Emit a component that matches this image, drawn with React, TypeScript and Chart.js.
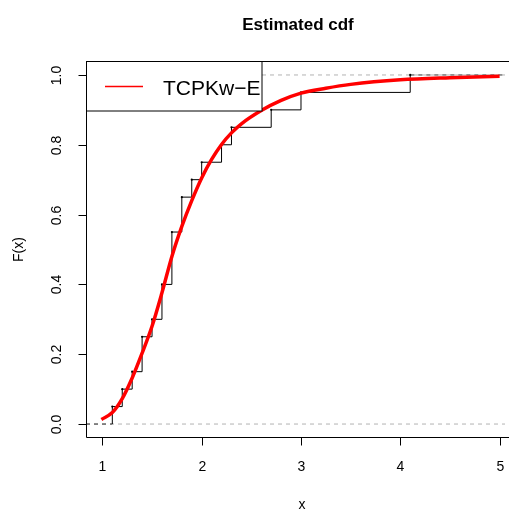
import React, { useEffect, useRef } from "react";
import { Chart, registerables } from "chart.js";
Chart.register(...registerables);

// Empirical CDF jump points and levels
const stepX = [1.1, 1.2, 1.3, 1.4, 1.5, 1.6, 1.7, 1.8, 1.9, 2.0, 2.2, 2.3, 2.7, 3.0, 4.1];
const stepY = [0.05, 0.1, 0.15, 0.25, 0.3, 0.4, 0.55, 0.65, 0.7, 0.75, 0.8, 0.85, 0.9, 0.95, 1.0];

// Fitted TCPKw-E cdf
const curveX = [0.99, 1.1, 1.2, 1.3, 1.4, 1.5, 1.6, 1.7, 1.8, 1.9, 2.0, 2.1, 2.2, 2.3, 2.4, 2.6, 2.8, 3.0, 3.25, 3.5, 4.0, 4.5, 5.0];
const curveY = [0.013, 0.033, 0.073, 0.132, 0.203, 0.28, 0.376, 0.48, 0.566, 0.64, 0.705, 0.758, 0.801, 0.834, 0.86, 0.898, 0.927, 0.948, 0.962, 0.973, 0.986, 0.992, 0.996];

const xTicks = [1, 2, 3, 4, 5];
const xTickLabels = ["1", "2", "3", "4", "5"];
const yTicks = [0, 0.2, 0.4, 0.6, 0.8, 1.0];
const yTickLabels = ["0.0", "0.2", "0.4", "0.6", "0.8", "1.0"];
const xLimits = [0.835, 5.0545];
const yLimits = [-0.04, 1.04];
const refLevels = [0, 1];

const titleText = "Estimated cdf";
const xLabel = "x";
const yLabel = "F(x)";
const legendLabel = "TCPKw\u2212E";

const FONT = "'Liberation Sans', Arial, Helvetica, sans-serif";

const decor = {
  id: "decor",
  afterDatasetsDraw(chart: any) {
    const { ctx, chartArea: ca, scales } = chart;
    const x = scales.x;
    const y = scales.y;
    ctx.save();
    ctx.strokeStyle = "#000";
    ctx.fillStyle = "#000";
    ctx.lineWidth = 1;
    ctx.setLineDash([]);
    const L = Math.round(ca.left) + 0.5;
    const T = Math.round(ca.top) + 0.5;
    const B = Math.round(ca.bottom) - 0.5;
    const R = ca.right + 20;
    // box
    ctx.beginPath();
    ctx.moveTo(R, T);
    ctx.lineTo(L, T);
    ctx.lineTo(L, B);
    ctx.lineTo(R, B);
    ctx.stroke();

    // x axis ticks & labels
    ctx.font = `14px ${FONT}`;
    ctx.textAlign = "center";
    ctx.textBaseline = "alphabetic";
    xTicks.forEach((v, i) => {
      const px = Math.round(x.getPixelForValue(v)) + 0.5;
      ctx.beginPath();
      ctx.moveTo(px, B);
      ctx.lineTo(px, B + 8);
      ctx.stroke();
      ctx.fillText(xTickLabels[i], px, 471);
    });

    // y axis ticks & labels
    yTicks.forEach((v, i) => {
      const py = Math.round(y.getPixelForValue(v)) + 0.5;
      ctx.beginPath();
      ctx.moveTo(L - 8, py);
      ctx.lineTo(L, py);
      ctx.stroke();
      ctx.save();
      ctx.translate(61, py);
      ctx.rotate(-Math.PI / 2);
      ctx.fillText(yTickLabels[i], 0, 0);
      ctx.restore();
    });

    // axis titles
    ctx.fillText(xLabel, 302, 509);
    ctx.save();
    ctx.translate(23, (ca.top + ca.bottom) / 2);
    ctx.rotate(-Math.PI / 2);
    ctx.fillText(yLabel, 0, 0);
    ctx.restore();

    // main title
    ctx.font = `bold 17px ${FONT}`;
    ctx.fillText(titleText, 298, 30);

    // legend
    ctx.fillStyle = "#fff";
    ctx.fillRect(L, T, 262 - L, 111 - T);
    ctx.strokeStyle = "#000";
    ctx.strokeRect(L, T, 262 - L, 111 - T);
    ctx.strokeStyle = "#ff0000";
    ctx.lineWidth = 1.5;
    ctx.beginPath();
    ctx.moveTo(105, 86.5);
    ctx.lineTo(143, 86.5);
    ctx.stroke();
    ctx.fillStyle = "#000";
    ctx.font = `21px ${FONT}`;
    ctx.textAlign = "left";
    ctx.fillText(legendLabel, 163, 95);

    ctx.restore();
  },
};

export default function App() {
  const ref = useRef<HTMLCanvasElement | null>(null);
  useEffect(() => {
    if (!ref.current) return;
    const last = stepX.length - 1;
    const stepData = [{ x: stepX[0], y: 0 }, ...stepX.map((v, i) => ({ x: v, y: stepY[i] }))];
    const chart = new Chart(ref.current, {
      type: "line",
      data: {
        datasets: [
          {
            label: legendLabel,
            data: curveX.map((v, i) => ({ x: v, y: curveY[i] })),
            borderColor: "#ff0000",
            borderWidth: 3.5,
            pointRadius: 0,
            cubicInterpolationMode: "monotone",
            order: 0,
          },
          {
            label: "ecdf",
            data: stepData,
            stepped: "before",
            borderColor: "#000",
            borderWidth: 1,
            pointRadius: stepData.map((_, i) => (i === 0 ? 0 : 1.1)),
            pointBackgroundColor: "#000",
            pointBorderWidth: 0,
            order: 1,
          },
          {
            label: "tailL",
            data: [{ x: xLimits[0], y: 0 }, { x: stepX[0], y: 0 }],
            borderColor: "#333",
            borderWidth: 1,
            borderDash: [4, 4],
            pointRadius: 0,
            order: 2,
          },
          {
            label: "tailR",
            data: [{ x: stepX[last], y: stepY[last] }, { x: xLimits[1], y: stepY[last] }],
            borderColor: "#333",
            borderWidth: 1,
            borderDash: [4, 4],
            pointRadius: 0,
            order: 2,
          },
          ...refLevels.map((lv) => ({
            label: "ref" + lv,
            data: [{ x: xLimits[0], y: lv }, { x: xLimits[1], y: lv }],
            borderColor: "#b3b3b3",
            borderWidth: 1,
            borderDash: [4, 4],
            pointRadius: 0,
            order: 3,
          })),
        ],
      },
      options: {
        responsive: false,
        animation: false,
        devicePixelRatio: 1,
        layout: { padding: { left: 86, top: 61, right: 0, bottom: 73 } },
        plugins: { legend: { display: false }, tooltip: { enabled: false }, title: { display: false } },
        scales: {
          x: { type: "linear", min: xLimits[0], max: xLimits[1], display: false },
          y: { type: "linear", min: yLimits[0], max: yLimits[1], display: false },
        },
      },
      plugins: [decor],
    } as any);
    return () => chart.destroy();
  }, []);
  return (
    <div style={{ position: "fixed", left: 0, top: 0, width: 509, height: 511, background: "#fff" }}>
      <canvas ref={ref} width={509} height={511} style={{ width: 509, height: 511, display: "block" }} />
    </div>
  );
}
